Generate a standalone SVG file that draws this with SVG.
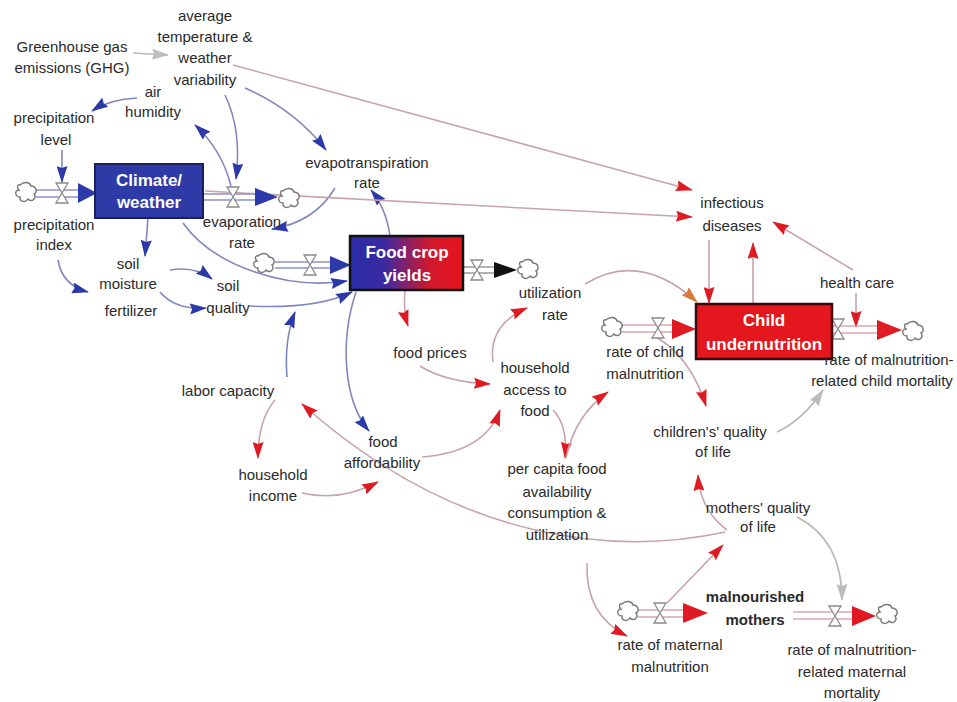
<svg xmlns="http://www.w3.org/2000/svg" width="957" height="702" viewBox="0 0 957 702">
<style>
text{font-family:"Liberation Sans",Arial,sans-serif;font-size:15px;fill:#2a2a2a;text-anchor:middle}
.bx{font-weight:bold;font-size:17px;fill:#fff}
.bold{font-weight:bold}
.cb{fill:none;stroke:#8088bc;stroke-width:1.6}
.cr{fill:none;stroke:#c9a3ab;stroke-width:1.6}
.cg{fill:none;stroke:#b8b8b8;stroke-width:1.6}
.pb{stroke:#8d92c8;stroke-width:1.6}
.pr{stroke:#d9a7ae;stroke-width:1.6}
.pg{stroke:#999;stroke-width:1.6}
</style>
<defs>
<marker id="ab" viewBox="0 0 17 11" refX="16" refY="5.5" markerWidth="17" markerHeight="11" orient="auto" markerUnits="userSpaceOnUse"><path d="M0,0 L17,5.5 L0,11 L2,5.5 Z" fill="#2b3aa8"/></marker>
<marker id="ar" viewBox="0 0 17 11" refX="16" refY="5.5" markerWidth="17" markerHeight="11" orient="auto" markerUnits="userSpaceOnUse"><path d="M0,0 L17,5.5 L0,11 L2,5.5 Z" fill="#e01a22"/></marker>
<marker id="ag" viewBox="0 0 17 11" refX="16" refY="5.5" markerWidth="17" markerHeight="11" orient="auto" markerUnits="userSpaceOnUse"><path d="M0,0 L17,5.5 L0,11 L2,5.5 Z" fill="#bdbdbd"/></marker>
<marker id="ao" viewBox="0 0 17 11" refX="16" refY="5.5" markerWidth="17" markerHeight="11" orient="auto" markerUnits="userSpaceOnUse"><path d="M0,0 L17,5.5 L0,11 L2,5.5 Z" fill="#d77a3e"/></marker>
<path id="cloud" d="M-6,-8 C-2,-12 4,-11 5,-7 C10,-7 12,-1 8,1 C11,5 6,10 2,6 C0,10 -7,9 -6,4 C-11,4 -12,-3 -7,-3 C-10,-6 -8,-9 -6,-8 Z" fill="#fff" stroke="#777" stroke-width="1.4"/>
<path id="valve" d="M-6,-10 L6,-10 L-6,10 L6,10 Z" fill="#fff" stroke="#8a8a8a" stroke-width="1.3"/>
<linearGradient id="fcy" x1="0" y1="0" x2="1" y2="0">
<stop offset="0" stop-color="#2a2ca8"/><stop offset="0.3" stop-color="#3a2aa2"/><stop offset="0.7" stop-color="#cf182e"/><stop offset="1" stop-color="#e8141c"/>
</linearGradient>
</defs>
<rect width="957" height="702" fill="#fff"/>

<g id="connectors">
<path class="cg" d="M133,53 L168,55" marker-end="url(#ag)"/>
<path class="cb" d="M137,98 Q110,99 92,111" marker-end="url(#ab)"/>
<path class="cb" d="M225,95 Q242,130 236,179" marker-end="url(#ab)"/>
<path class="cb" d="M231,186 Q222,150 195,125" marker-end="url(#ab)"/>
<path class="cb" d="M245,88 Q295,110 326,150" marker-end="url(#ab)"/>
<path class="cb" d="M335,188 Q315,222 272,229" marker-end="url(#ab)"/>
<path class="cb" d="M390,236 Q386,208 371,190" marker-end="url(#ab)"/>
<path class="cb" d="M62,150 L62,182" marker-end="url(#ab)"/>
<path class="cb" d="M148,218 L145,256" marker-end="url(#ab)"/>
<path class="cb" d="M58,260 Q62,285 88,292" marker-end="url(#ab)"/>
<path class="cb" d="M170,270 Q195,266 212,279" marker-end="url(#ab)"/>
<path class="cb" d="M160,292 Q175,310 206,308" marker-end="url(#ab)"/>
<path class="cb" d="M183,223 C215,268 290,290 347,281" marker-end="url(#ab)"/>
<path class="cb" d="M250,306 C290,308 325,305 352,292" marker-end="url(#ab)"/>
<path class="cb" d="M287,377 Q284,340 295,312" marker-end="url(#ab)"/>
<path class="cb" d="M356,292 C340,340 343,400 369,431" marker-end="url(#ab)"/>
<path class="cr" d="M233,65 L692,190" marker-end="url(#ar)"/>
<path class="cr" d="M205,191 L692,217" marker-end="url(#ar)"/>
<path class="cr" d="M709,240 L709,303" marker-end="url(#ar)"/>
<path class="cr" d="M753,304 L753,243" marker-end="url(#ar)"/>
<path class="cr" d="M853,270 L773,222" marker-end="url(#ar)"/>
<path class="cr" d="M856,293 L856,327" marker-end="url(#ar)"/>
<path class="cr" d="M585,284 Q640,250 697,302" marker-end="url(#ao)"/>
<path class="cr" d="M405,291 Q403,310 408,326" marker-end="url(#ar)"/>
<path class="cr" d="M420,366 Q445,382 490,384" marker-end="url(#ar)"/>
<path class="cr" d="M493,362 Q488,325 527,308" marker-end="url(#ar)"/>
<path class="cr" d="M422,457 Q485,452 500,410" marker-end="url(#ar)"/>
<path class="cr" d="M553,410 Q568,425 565,458" marker-end="url(#ar)"/>
<path class="cr" d="M566,458 Q575,415 608,392" marker-end="url(#ar)"/>
<path class="cr" d="M658,338 Q692,360 706,406" marker-end="url(#ar)"/>
<path class="cg" d="M777,432 Q803,420 823,390" marker-end="url(#ag)"/>
<path class="cr" d="M727,530 Q700,510 698,475" marker-end="url(#ar)"/>
<path class="cr" d="M725,532 C620,555 460,545 302,404" marker-end="url(#ar)"/>
<path class="cg" d="M797,517 Q842,540 842,600" marker-end="url(#ag)"/>
<path class="cr" d="M667,603 L723,545" marker-end="url(#ar)"/>
<path class="cr" d="M587,563 Q585,615 627,636" marker-end="url(#ar)"/>
<path class="cr" d="M275,400 Q258,420 258,458" marker-end="url(#ar)"/>
<path class="cr" d="M302,493 Q340,502 378,482" marker-end="url(#ar)"/>
</g>

<g id="flows">
<g id="flow-precipitation">
<line class="pb" x1="36" y1="190" x2="86" y2="190"/><line class="pb" x1="36" y1="197" x2="86" y2="197"/>
<use href="#cloud" x="26" y="193"/>
<use href="#valve" x="62" y="193"/>
<path d="M78,183 L97,193 L78,203 Z" fill="#2b3aa8"/>
</g>
<g id="flow-evaporation">
<line class="pb" x1="203" y1="194" x2="262" y2="194"/><line class="pb" x1="203" y1="200" x2="262" y2="200"/>
<use href="#valve" x="233" y="197"/>
<path d="M255,188 L278,197 L255,206 Z" fill="#2b3aa8"/>
<use href="#cloud" x="289" y="199"/>
</g>
<g id="flow-fcy-in">
<line class="pb" x1="275" y1="262" x2="336" y2="262"/><line class="pb" x1="275" y1="268" x2="336" y2="268"/>
<use href="#cloud" x="264" y="264"/>
<use href="#valve" x="310" y="265"/>
<path d="M330,256 L351,265 L330,274 Z" fill="#2b3aa8"/>
</g>
<g id="flow-fcy-out">
<line class="pg" x1="463" y1="267" x2="500" y2="267"/><line class="pg" x1="463" y1="273" x2="500" y2="273"/>
<use href="#valve" x="477" y="270"/>
<path d="M494,262 L517,270 L494,278 Z" fill="#111"/>
<use href="#cloud" x="528" y="270"/>
</g>
<g id="flow-child-in">
<line class="pr" x1="622" y1="325" x2="680" y2="325"/><line class="pr" x1="622" y1="332" x2="680" y2="332"/>
<use href="#cloud" x="612" y="328"/>
<use href="#valve" x="658" y="328"/>
<path d="M672,319 L696,329 L672,339 Z" fill="#e01a22"/>
</g>
<g id="flow-child-out">
<line class="pr" x1="832" y1="326" x2="885" y2="326"/><line class="pr" x1="832" y1="333" x2="885" y2="333"/>
<use href="#valve" x="838" y="329"/>
<path d="M877,320 L902,330 L877,340 Z" fill="#e01a22"/>
<use href="#cloud" x="913" y="332"/>
</g>
<g id="flow-mothers-in">
<line class="pr" x1="638" y1="610" x2="690" y2="610"/><line class="pr" x1="638" y1="617" x2="690" y2="617"/>
<use href="#cloud" x="628" y="612"/>
<use href="#valve" x="660" y="613"/>
<path d="M683,603 L708,613 L683,623 Z" fill="#e01a22"/>
</g>
<g id="flow-mothers-out">
<line class="pr" x1="793" y1="612" x2="860" y2="612"/><line class="pr" x1="793" y1="619" x2="860" y2="619"/>
<use href="#valve" x="835" y="616"/>
<path d="M852,606 L876,616 L852,626 Z" fill="#e01a22"/>
<use href="#cloud" x="887" y="615"/>
</g>
</g>

<g id="climate-weather">
<rect x="95" y="164" width="108" height="54" fill="#2e3aa6" stroke="#1a1f5e" stroke-width="2"/>
<text class="bx" x="149" y="186">Climate/</text>
<text class="bx" x="149" y="208">weather</text>
</g>
<g id="food-crop-yields">
<rect x="350" y="236" width="113" height="54" fill="url(#fcy)" stroke="#111" stroke-width="2.5"/>
<text class="bx" x="407" y="258">Food crop</text>
<text class="bx" x="407" y="281">yields</text>
</g>
<g id="child-undernutrition">
<rect x="696" y="304" width="136" height="55" fill="#e3171d" stroke="#3a0a0a" stroke-width="2.5"/>
<text class="bx" x="764" y="326">Child</text>
<text class="bx" x="764" y="350">undernutrition</text>
</g>

<g id="ghg"><text x="72" y="52">Greenhouse gas</text><text x="72" y="73">emissions (GHG)</text></g>
<g id="avg-temp"><text x="205" y="21">average</text><text x="205" y="42">temperature &amp;</text><text x="205" y="63">weather</text><text x="205" y="85">variability</text></g>
<g id="air-humidity"><text x="153" y="97">air</text><text x="153" y="117">humidity</text></g>
<g id="precipitation-level"><text x="54" y="123">precipitation</text><text x="56" y="145">level</text></g>
<g id="precipitation-index"><text x="54" y="230">precipitation</text><text x="54" y="250">index</text></g>
<g id="evaporation-rate"><text x="242" y="227">evaporation</text><text x="242" y="248">rate</text></g>
<g id="evapotranspiration-rate"><text x="367" y="168">evapotranspiration</text><text x="367" y="188">rate</text></g>
<g id="soil-moisture"><text x="128" y="269">soil</text><text x="128" y="289">moisture</text></g>
<g id="fertilizer"><text x="131" y="316">fertilizer</text></g>
<g id="soil-quality"><text x="228" y="291">soil</text><text x="228" y="313">quality</text></g>
<g id="labor-capacity"><text x="228" y="396">labor capacity</text></g>
<g id="household-income"><text x="273" y="480">household</text><text x="273" y="501">income</text></g>
<g id="food-affordability"><text x="383" y="447">food</text><text x="382" y="468">affordability</text></g>
<g id="food-prices"><text x="430" y="358">food prices</text></g>
<g id="household-access"><text x="535" y="373">household</text><text x="535" y="395">access to</text><text x="535" y="416">food</text></g>
<g id="utilization-rate"><text x="550" y="298">utilization</text><text x="555" y="320">rate</text></g>
<g id="per-capita"><text x="557" y="474">per capita food</text><text x="557" y="497">availability</text><text x="557" y="518">consumption &amp;</text><text x="557" y="540">utilization</text></g>
<g id="rate-child-malnutrition"><text x="645" y="357">rate of child</text><text x="645" y="379">malnutrition</text></g>
<g id="infectious-diseases"><text x="732" y="208">infectious</text><text x="732" y="231">diseases</text></g>
<g id="health-care"><text x="857" y="288">health care</text></g>
<g id="child-mortality"><text x="889" y="365">rate of malnutrition-</text><text x="882" y="386">related child mortality</text></g>
<g id="children-quality"><text x="710" y="437">children's' quality</text><text x="713" y="457">of life</text></g>
<g id="mothers-quality"><text x="758" y="513">mothers' quality</text><text x="758" y="532">of life</text></g>
<g id="malnourished-mothers"><text class="bold" x="755" y="602">malnourished</text><text class="bold" x="755" y="625">mothers</text></g>
<g id="rate-maternal-malnutrition"><text x="670" y="650">rate of maternal</text><text x="670" y="672">malnutrition</text></g>
<g id="maternal-mortality"><text x="852" y="655">rate of malnutrition-</text><text x="852" y="677">related maternal</text><text x="852" y="698">mortality</text></g>
</svg>
